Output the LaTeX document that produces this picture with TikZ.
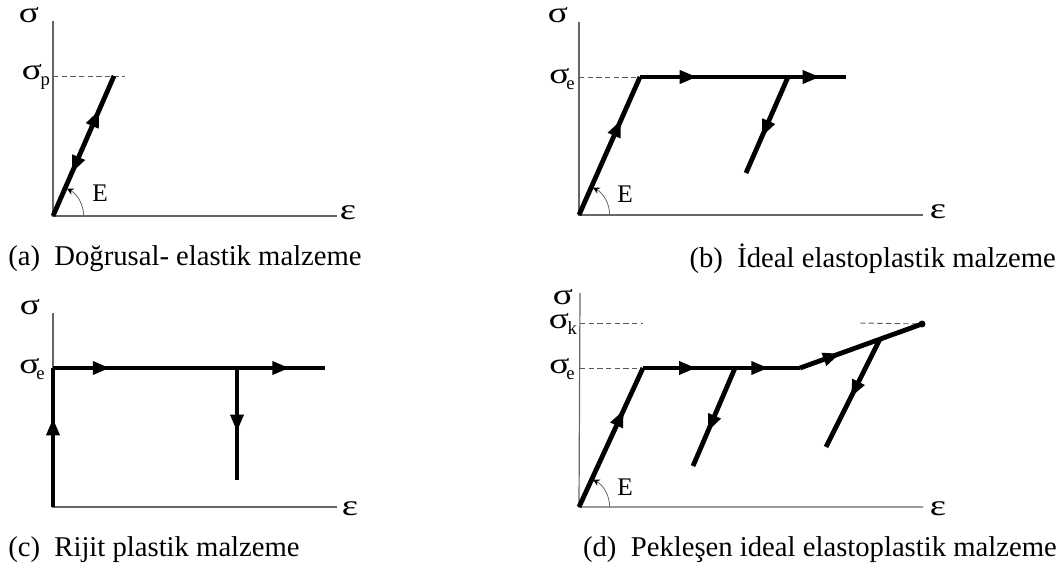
\documentclass[tikz,border=0pt]{standalone}
\usepackage{fontspec}
\setmainfont{Liberation Serif}
\usetikzlibrary{arrows.meta,decorations.markings}
\newcommand\subs[1]{\raisebox{-0.5ex}{\fontsize{14}{14}\selectfont #1}}
\newcommand\sgm{\scalebox{1.4}[1.1]{σ}}
\newcommand\eps{\scalebox{1.45}[1.1]{ε}}
\tikzset{
  axisline/.style={line width=0.9pt, draw=black!60},
  curve/.style={line width=3.6pt, line cap=butt, line join=miter},
  guide/.style={line width=0.7pt, draw=black!65, dash pattern=on 4pt off 2.5pt},
  tipf/.style={postaction={decorate, decoration={markings, mark=at position #1 with {\arrow{Triangle[length=13pt,width=9.5pt]}}}}},
  tipr/.style={postaction={decorate, decoration={markings, mark=at position #1 with {\arrowreversed{Triangle[length=13pt,width=9.5pt]}}}}},
  anglearc/.style={line width=0.6pt, draw=black!60, -{Stealth[length=5pt,width=5pt,black]}},
  lbl/.style={font=\fontsize{20}{20}\selectfont, inner sep=0pt},
  elbl/.style={font=\fontsize{19}{19}\selectfont, inner sep=0pt},
  captext/.style={font=\fontsize{21.5}{21.5}\selectfont, inner sep=0pt},
}
\begin{document}
\begin{tikzpicture}[x=0.75pt,y=-0.75pt]
\useasboundingbox (0,0) rectangle (1064,567);
% ---------- (a)
\coordinate (Oa) at (53,216);
\coordinate (Ta) at (53,21);
\coordinate (Ra) at (337,216);
\coordinate (Pa) at (114,76);
\coordinate (Da) at (53,76);
\coordinate (Da2) at (125,76);
\draw[axisline] (Ta) -- (Oa) -- (Ra);
\draw[guide] (Da) -- (Da2);
\draw[curve, tipf=0.757, tipr=0.307] (Oa) -- (Pa);
\draw[anglearc] (Oa) ++(23pt,0) arc[start angle=0, end angle=63, radius=23pt];
\node[lbl] (sa) at (29,15) {\sgm};
\node[lbl] (ea) at (348,213) {\eps};
\node[lbl] (spa) at (36,77) {\sgm\kern-1pt\subs{p}};
\node[elbl] (Ea) at (100,193) {E};
\node[captext, anchor=west] (capa) at (8,259) {(a)\ \ Doğrusal- elastik malzeme};
% ---------- (b)
\coordinate (Ob) at (579,215);
\coordinate (Tb) at (579,22);
\coordinate (Rb) at (923,215);
\coordinate (Kb) at (640,77);
\coordinate (Eb) at (846,77);
\coordinate (Db) at (579,77);
\coordinate (Ub) at (788,77);
\coordinate (Vb) at (746,173);
\draw[axisline] (Tb) -- (Ob) -- (Rb);
\draw[guide] (Db) -- (Kb);
\draw[curve, tipf=0.69] (Ob) -- (Kb);
\draw[curve, tipf=0.277, tipf=0.874] (Kb) -- (Eb);
\draw[curve, tipf=0.625] (Ub) -- (Vb);
\draw[anglearc] (Ob) ++(23pt,0) arc[start angle=0, end angle=63, radius=23pt];
\node[lbl] (sb) at (558,15) {\sgm};
\node[lbl] (eb) at (938,212) {\eps};
\node[lbl] (seb) at (562,79) {\sgm\kern-2.5pt\subs{e}};
\node[elbl] (Ebl) at (625,194) {E};
\node[captext, anchor=east] (capb) at (1056,259) {(b)\ \ İdeal elastoplastik malzeme};
% ---------- (c)
\coordinate (Oc) at (53,507);
\coordinate (Tc) at (53,313);
\coordinate (Rc) at (337,507);
\coordinate (Yc) at (53,368);
\coordinate (Ec) at (325,368);
\coordinate (Uc) at (237,368);
\coordinate (Vc) at (237,480);
\draw[axisline] (Tc) -- (Oc) -- (Rc);
\draw[curve, tipf=0.64] (Oc) -- (Yc);
\draw[curve, tipf=0.21, tipf=0.87] (Yc) -- (Ec);
\draw[curve, tipf=0.57] (Uc) -- (Vc);
\node[lbl] (sc) at (30,307) {\sgm};
\node[lbl] (ec) at (350,509) {\eps};
\node[lbl] (sec) at (32,369) {\sgm\kern-2.5pt\subs{e}};
\node[captext, anchor=west] (capc) at (8,550) {(c)\ \ Rijit plastik malzeme};
% ---------- (d)
\coordinate (Od) at (579,507);
\coordinate (Td) at (580,293);
\coordinate (Rd) at (923,507);
\coordinate (Kd) at (643,368);
\coordinate (Hd) at (800,368);
\coordinate (Pd) at (922,324);
\coordinate (Dk1) at (580,323);
\coordinate (Dk2) at (643,323);
\coordinate (Dk3) at (860,323);
\coordinate (De) at (580,368);
\coordinate (U1) at (735,368);
\coordinate (V1) at (693,466);
\coordinate (U2) at (880,339);
\coordinate (V2) at (826,447);
\draw[axisline] (Td) -- (Od) -- (Rd);
\draw[guide] (Dk1) -- (Dk2);
\draw[guide] (Dk3) -- (Pd);
\draw[guide] (De) -- (Kd);
\draw[curve, tipf=0.70] (Od) -- (Kd);
\draw[curve, tipf=0.34, tipf=0.80] (Kd) -- (Hd);
\draw[curve, tipf=0.33] (Hd) -- (Pd);
\draw[curve, tipf=0.65] (U1) -- (V1);
\draw[curve, tipf=0.54] (U2) -- (V2);
\fill (Pd) circle[radius=2.6pt];
\draw[anglearc] (Od) ++(23pt,0) arc[start angle=0, end angle=63, radius=23pt];
\node[lbl] (sd) at (563,297) {\sgm};
\node[lbl] (ed) at (938,509) {\eps};
\node[lbl] (skd) at (563,324) {\sgm\kern-1pt\subs{k}};
\node[lbl] (sed) at (562,369) {\sgm\kern-2.5pt\subs{e}};
\node[elbl] (Edl) at (625,487) {E};
\node[captext, anchor=east] (capd) at (1057,550) {(d)\ \ Pekleşen ideal elastoplastik malzeme};
\end{tikzpicture}
\end{document}
